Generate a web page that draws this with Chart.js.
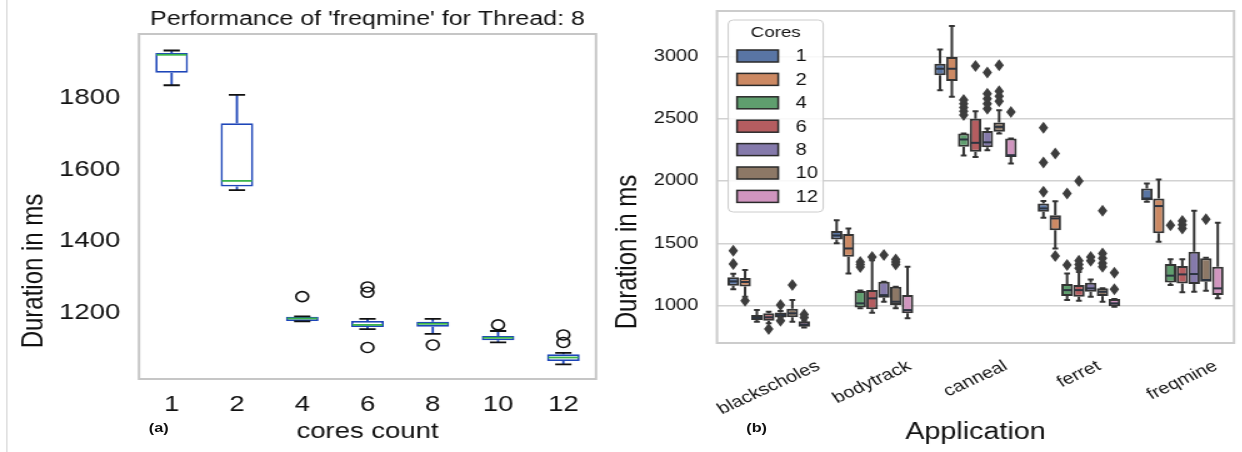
<!DOCTYPE html>
<html>
<head>
<meta charset="utf-8">
<script src="https://cdn.jsdelivr.net/npm/chart.js@4.4.1/dist/chart.umd.min.js"></script>
<style>
  html, body { margin: 0; padding: 0; background: #fff; overflow: hidden; }
  /* the reference figure is stretched sideways, so the whole page is too */
  #stretch { position: absolute; left: 0; top: 0; width: 994px; height: 452px; transform: scaleX(1.25); transform-origin: 0 0; }
  .box { position: absolute; top: 0; height: 452px; }
  #leftBox { left: 0; width: 480px; }
  #rightBox { left: 480px; width: 514px; }
  .tag { position: absolute; font: bold 13px 'Liberation Sans', Arial, sans-serif; color: #111; }
  #edge { position: absolute; left: 5px; top: 0; width: 1px; height: 452px; background: #d8d8d8; }
</style>
</head>
<body>
<div id="stretch">
  <div id="edge"></div>
  <div class="box" id="leftBox"><canvas id="leftChart"></canvas></div>
  <div class="box" id="rightBox"><canvas id="rightChart"></canvas></div>
  <div class="tag" style="left:119px; top:420px;">(a)</div>
  <div class="tag" style="left:597px; top:420px;">(b)</div>
</div>
<script>
// ---- (a) freqmine, thread 8 ----
const leftCores = ['1', '2', '4', '6', '8', '10', '12'];
const leftLo  = [1836, 1543, 1177, 1155, 1142, 1118, 1057];
const leftQ1  = [1871, 1553, 1178, 1161, 1162, 1124, 1066];
const leftMed = [1921, 1569, 1185, 1167, 1170, 1131, 1076];
const leftQ3  = [1926, 1730, 1190, 1178, 1176, 1136, 1085];
const leftHi  = [1933, 1809, 1191, 1184, 1184, 1150, 1089];
const leftOut = [[], [], [1246], [1258, 1273, 1104], [1111], [1167], [1118, 1139]];
const leftTicks = [1200, 1400, 1600, 1800];

// ---- (b) all applications, rows = cores ----
const apps = ['blackscholes', 'bodytrack', 'canneal', 'ferret', 'freqmine'];
const coreLabels = ['1', '2', '4', '6', '8', '10', '12'];
const rightLo = [
  [1131, 1500, 2728, 1705, 1833],
  [1072, 1259, 2676, 1459, 1513],
  [872, 980, 2204, 1045, 1166],
  [859, 944, 2193, 1040, 1107],
  [905, 1032, 2247, 1072, 1112],
  [872, 979, 2381, 1032, 1120],
  [825, 899, 2140, 992, 1059]
];
const rightQ1 = [
  [1160, 1530, 2848, 1753, 1846],
  [1155, 1392, 2802, 1606, 1580],
  [885, 985, 2274, 1077, 1187],
  [880, 971, 2234, 1072, 1179],
  [905, 1064, 2270, 1112, 1174],
  [907, 1005, 2394, 1077, 1192],
  [832, 939, 2193, 995, 1086]
];
const rightMed = [
  [1195, 1563, 2900, 1780, 1860],
  [1190, 1459, 2900, 1700, 1799],
  [904, 1019, 2333, 1125, 1241],
  [907, 1059, 2306, 1125, 1251],
  [925, 1085, 2310, 1139, 1254],
  [939, 1032, 2434, 1112, 1206],
  [850, 965, 2207, 1019, 1139]
];
const rightQ3 = [
  [1228, 1600, 2941, 1820, 1940],
  [1222, 1574, 2995, 1726, 1860],
  [925, 1117, 2381, 1174, 1334],
  [939, 1125, 2500, 1166, 1318],
  [945, 1192, 2400, 1184, 1433],
  [976, 1152, 2469, 1139, 1380],
  [875, 1085, 2340, 1053, 1312]
];
const rightHi = [
  [1256, 1686, 3055, 1840, 1980],
  [1286, 1619, 3243, 1838, 2012],
  [966, 1122, 2381, 1259, 1372],
  [952, 1365, 2560, 1270, 1372],
  [958, 1192, 2420, 1211, 1761],
  [1046, 1152, 2568, 1139, 1385],
  [880, 1312, 2340, 1053, 1665]
];
const rightOut = [
  [[1335, 1441], [], [], [1913, 2148, 2426], []],
  [[1040], [], [], [1398, 2220], []],
  [[], [1310, 1330, 1350], [2530, 2560, 2590, 2620, 2650], [1326, 1900], [1646]],
  [[813], [1390], [2922], [1300, 1330, 1360, 1999], [1620, 1650, 1680]],
  [[1005, 880], [1406], [2580, 2620, 2660, 2700, 2869], [1360, 1390], []],
  [[1166], [1330, 1350, 1370], [2640, 2680, 2720, 2928], [1312, 1340, 1380, 1419, 1761], [1693]],
  [[905, 930], [], [2554], [1131, 1264], []]
];
const rightTicks = [1000, 1500, 2000, 2500, 3000];
const coreColors = ['#5975a4', '#cc8963', '#5f9e6e', '#b55d60', '#857aab', '#8d7866', '#d095bf'];

const FONT = "'Liberation Sans', Arial, sans-serif";

// whiskers, caps, medians and fliers on top of the floating bars
const boxExtras = {
  id: 'boxExtras',
  beforeDatasetsDraw(chart, args, o) {
    const a = chart.chartArea, ctx = chart.ctx;
    ctx.save();
    ctx.strokeStyle = o.frame;
    ctx.lineWidth = 2;
    ctx.strokeRect(a.left, a.top, a.right - a.left, a.bottom - a.top);
    ctx.restore();
  },
  afterDatasetsDraw(chart, args, o) {
    const ctx = chart.ctx, y = chart.scales.y;
    ctx.save();
    chart.data.datasets.forEach((ds, di) => {
      const meta = chart.getDatasetMeta(di);
      meta.data.forEach((bar, i) => {
        const x = bar.x, w = bar.width;
        const pLo = y.getPixelForValue(ds.lo[i]), pHi = y.getPixelForValue(ds.hi[i]);
        const pQ1 = y.getPixelForValue(ds.q1[i]), pQ3 = y.getPixelForValue(ds.q3[i]);
        const pMed = y.getPixelForValue(ds.med[i]);
        ctx.lineWidth = o.lineWidth;
        ctx.strokeStyle = o.whisker;
        ctx.beginPath();
        ctx.moveTo(x, pQ3); ctx.lineTo(x, pHi);
        ctx.moveTo(x, pQ1); ctx.lineTo(x, pLo);
        ctx.stroke();
        ctx.strokeStyle = o.cap;
        ctx.beginPath();
        ctx.moveTo(x - w / 4, pHi); ctx.lineTo(x + w / 4, pHi);
        ctx.moveTo(x - w / 4, pLo); ctx.lineTo(x + w / 4, pLo);
        ctx.stroke();
        ctx.strokeStyle = o.median;
        ctx.beginPath();
        ctx.moveTo(x - w / 2 + 1, pMed); ctx.lineTo(x + w / 2 - 1, pMed);
        ctx.stroke();
        ds.out[i].forEach(v => {
          const py = y.getPixelForValue(v);
          ctx.beginPath();
          if (o.flier === 'circle') {
            ctx.lineWidth = 1.6;
            ctx.strokeStyle = '#111';
            ctx.arc(x, py, 5, 0, Math.PI * 2);
            ctx.stroke();
          } else {
            ctx.fillStyle = '#3d3d3d';
            ctx.moveTo(x, py - 6); ctx.lineTo(x + 3.8, py);
            ctx.lineTo(x, py + 6); ctx.lineTo(x - 3.8, py);
            ctx.closePath();
            ctx.fill();
          }
        });
      });
    });
    ctx.restore();
  },
  afterDraw(chart, args, o) {
    const ctx = chart.ctx, a = chart.chartArea;
    ctx.save();
    ctx.fillStyle = '#111';
    (o.texts || []).forEach(t => {
      ctx.save();
      ctx.font = t.size + 'px ' + FONT;
      ctx.textAlign = 'center';
      ctx.textBaseline = 'middle';
      const cx = t.x === 'mid' ? (a.left + a.right) / 2 : t.x;
      ctx.translate(cx, t.y);
      if (t.rot) ctx.rotate(t.rot);
      ctx.fillText(t.text, 0, 0);
      ctx.restore();
    });
    // rotated category labels, centred under each tick
    if (o.slantLabels) {
      const xs = chart.scales.x, sz = 16, ang = Math.PI / 6;
      ctx.font = sz + 'px ' + FONT;
      ctx.textAlign = 'center';
      ctx.textBaseline = 'middle';
      chart.data.labels.forEach((lab, i) => {
        const L = ctx.measureText(lab).width;
        const h = L * Math.sin(ang) + sz * Math.cos(ang);
        ctx.save();
        ctx.translate(xs.getPixelForValue(i), a.bottom + 15 + h / 2);
        ctx.rotate(-ang);
        ctx.fillText(lab, 0, 0);
        ctx.restore();
      });
    }
    // legend box
    if (o.legend) {
      const lx = a.left + 9, ly = a.top + 9, lw = 76, lh = 192;
      ctx.fillStyle = 'rgba(255,255,255,0.85)';
      ctx.strokeStyle = '#cccccc';
      ctx.lineWidth = 1;
      ctx.beginPath();
      ctx.roundRect(lx, ly, lw, lh, 4);
      ctx.fill(); ctx.stroke();
      ctx.fillStyle = '#111';
      ctx.font = '15px ' + FONT;
      ctx.textAlign = 'center';
      ctx.textBaseline = 'middle';
      ctx.fillText('Cores', lx + 38, ly + 13);
      ctx.textAlign = 'left';
      ctx.font = '16px ' + FONT;
      chart.data.datasets.forEach((ds, i) => {
        const cy = ly + 36 + i * 23.4;
        ctx.fillStyle = ds.backgroundColor;
        ctx.fillRect(lx + 7, cy - 6, 33, 12);
        ctx.strokeStyle = '#2a2a2a';
        ctx.lineWidth = 1.5;
        ctx.strokeRect(lx + 7, cy - 6, 33, 12);
        ctx.fillStyle = '#111';
        ctx.fillText(ds.label, lx + 54, cy + 1);
      });
    }
    ctx.restore();
  }
};

// keep the y axis from pushing the plot area down
function fixY(width) {
  return s => { s.width = width; s.paddingTop = 0; s.paddingBottom = 0; };
}

new Chart(document.getElementById('leftChart'), {
  type: 'bar',
  data: {
    labels: leftCores,
    datasets: [{
      label: 'freqmine',
      data: leftQ1.map((v, i) => [v, leftQ3[i]]),
      lo: leftLo, q1: leftQ1, med: leftMed, q3: leftQ3, hi: leftHi, out: leftOut,
      backgroundColor: '#ffffff',
      borderColor: '#1d45b8',
      borderWidth: 1.8,
      borderSkipped: false,
      barPercentage: 0.5,
      categoryPercentage: 1
    }]
  },
  options: {
    responsive: true,
    maintainAspectRatio: false,
    animation: false,
    layout: { padding: { top: 34, right: 3.2, left: 0, bottom: 0 } },
    plugins: {
      legend: { display: false },
      tooltip: { enabled: false },
      boxExtras: {
        frame: '#c6c6c6', whisker: '#1d45b8', cap: '#111111', median: '#3cb44b',
        lineWidth: 1.8, flier: 'circle',
        texts: [
          { text: "Performance of 'freqmine' for Thread: 8", x: 'mid', y: 19, size: 20 },
          { text: 'Duration in ms', x: 27, y: 271, size: 24, rot: -Math.PI / 2 }
        ]
      }
    },
    scales: {
      x: {
        grid: { display: false, drawTicks: false },
        border: { display: false },
        ticks: { color: '#111', font: { family: FONT, size: 22 }, padding: 13 },
        title: { display: true, text: 'cores count', color: '#111', font: { family: FONT, size: 22 }, padding: { top: 0, bottom: 6.8 } },
        afterFit: s => { s.height = 73; }
      },
      y: {
        min: 1016,
        max: 1979,
        grid: { display: false, drawTicks: false },
        border: { display: false },
        ticks: { color: '#111', font: { family: FONT, size: 22 }, padding: 15, callback: v => String(v) },
        afterBuildTicks: s => { s.ticks = leftTicks.map(v => ({ value: v })); },
        afterFit: fixY(111.2)
      }
    }
  },
  plugins: [boxExtras]
});

new Chart(document.getElementById('rightChart'), {
  type: 'bar',
  data: {
    labels: apps,
    datasets: coreLabels.map((c, k) => ({
      label: c,
      data: rightQ1[k].map((v, i) => [v, rightQ3[k][i]]),
      lo: rightLo[k], q1: rightQ1[k], med: rightMed[k], q3: rightQ3[k], hi: rightHi[k], out: rightOut[k],
      backgroundColor: coreColors[k],
      borderColor: '#333333',
      borderWidth: 2,
      borderSkipped: false,
      barPercentage: 0.98,
      categoryPercentage: 0.8
    }))
  },
  options: {
    responsive: true,
    maintainAspectRatio: false,
    animation: false,
    layout: { padding: { top: 11, right: 6.8, left: 0, bottom: 0 } },
    plugins: {
      legend: { display: false },
      tooltip: { enabled: false },
      boxExtras: {
        frame: '#cccccc', whisker: '#333333', cap: '#333333', median: '#2c3440',
        lineWidth: 2, flier: 'diamond', slantLabels: true, legend: true,
        texts: [
          { text: 'Duration in ms', x: 22, y: 252, size: 24, rot: -Math.PI / 2 }
        ]
      }
    },
    scales: {
      x: {
        grid: { display: false, drawTicks: false },
        border: { display: false },
        ticks: { display: false },
        title: { display: true, text: 'Application', color: '#111', font: { family: FONT, size: 23 }, padding: { top: 0, bottom: 5.2 } },
        afterFit: s => { s.height = 109; }
      },
      y: {
        min: 701,
        max: 3363,
        grid: { color: '#d2d2d2', lineWidth: 1.5, drawTicks: false },
        border: { display: false },
        ticks: { color: '#111', font: { family: FONT, size: 16 }, padding: 15, callback: v => String(v) },
        afterBuildTicks: s => { s.ticks = rightTicks.map(v => ({ value: v })); },
        afterFit: fixY(93.6)
      }
    }
  },
  plugins: [boxExtras]
});
</script>
</body>
</html>
